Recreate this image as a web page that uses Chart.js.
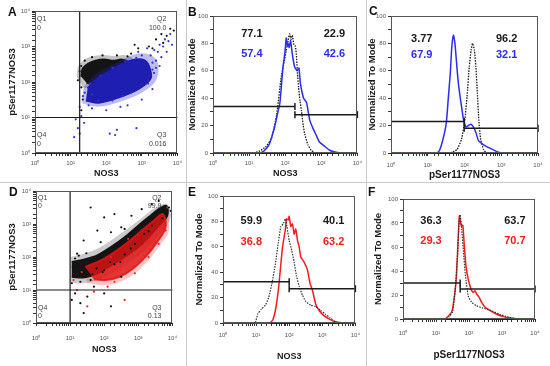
<!DOCTYPE html>
<html>
<head>
<meta charset="utf-8">
<title>NOS3 / pSer1177NOS3 flow cytometry</title>
<script src="https://cdn.jsdelivr.net/npm/chart.js@4.4.1/dist/chart.umd.min.js"></script>
<style>
  html, body { margin: 0; padding: 0; background: #fff; }
  #fig { position: relative; width: 550px; height: 366px; overflow: hidden; font-family: "Liberation Sans", Arial, sans-serif; }
  #fig canvas { position: absolute; }
  .rule { position: absolute; background: #c9c9c9; }
  .tag { position: absolute; font-weight: bold; font-size: 12px; line-height: 12px; color: #111; }
</style>
</head>
<body>
<div id="fig">
  <div class="rule" style="left:186px;top:0;width:1px;height:366px"></div>
  <div class="rule" style="left:366px;top:0;width:1px;height:366px"></div>
  <div class="rule" style="left:0;top:182px;width:550px;height:1px"></div>
  <canvas id="panelA"></canvas>
  <canvas id="panelB"></canvas>
  <canvas id="panelC"></canvas>
  <canvas id="panelD"></canvas>
  <canvas id="panelE"></canvas>
  <canvas id="panelF"></canvas>
  <div class="tag" style="left:8px;top:6px">A</div>
  <div class="tag" style="left:188px;top:6px">B</div>
  <div class="tag" style="left:369px;top:5px">C</div>
  <div class="tag" style="left:9px;top:186px">D</div>
  <div class="tag" style="left:188px;top:186px">E</div>
  <div class="tag" style="left:368px;top:186px">F</div>
</div>
<script>
// ---- A: pSer1177NOS3 vs NOS3 dot plot (black = control, blue = treated)
const aQuad = ["0", "100.0", "0", "0.016"]; // Q1, Q2, Q4, Q3
const aGateX = 18, aGateY = 10;
const aBlackCoreX = [20, 22, 32, 50, 89, 158, 282, 417, 355, 200, 100, 50, 28];
const aBlackCoreY = [141, 240, 331, 398, 427, 398, 427, 355, 224, 158, 95, 83, 95];
const aBlackHaloX = [15, 16.6, 26, 50, 89, 178, 316, 562, 501, 224, 100, 45, 22];
const aBlackHaloY = [141, 282, 447, 550, 575, 537, 575, 447, 224, 112, 71, 60, 71];
const aBlueCoreX = [27, 63, 229, 832, 1778, 1585, 1122, 562, 282, 120, 52, 30];
const aBlueCoreY = [30, 26, 37, 65, 126, 282, 417, 417, 316, 200, 115, 66];
const aBlueHaloX = [21, 56, 251, 1000, 2512, 2818, 1585, 631, 282, 112, 45, 23];
const aBlueHaloY = [25, 20, 28, 50, 112, 355, 603, 603, 417, 263, 151, 71];
const aBlueDotsX = [1778, 2239, 2818, 3162, 3981, 4467, 5623, 6310, 2512, 3548, 1995, 2512, 1000, 794, 1413, 5012, 7079, 3162,
  14, 16, 18, 20, 24, 12.6, 126, 178, 200, 708, 100, 398, 40, 32, 251, 1000, 1995, 22, 18,
  40, 60, 150, 300, 500, 1500, 2200, 2000, 700, 350, 150, 70, 35, 25];
const aBlueDotsY = [562, 794, 708, 1122, 1000, 1585, 1413, 2239, 398, 501, 224, 251, 562, 708, 891, 708, 1122, 282,
  8.9, 5, 3.5, 11, 7.1, 2.8, 3.5, 3.2, 4.5, 5, 16, 22, 18, 22, 20, 32, 63, 40, 20,
  45, 30, 30, 40, 50, 90, 180, 350, 480, 380, 250, 150, 90, 50];
const aBlackDotsX = [1585, 2512, 3548, 5012, 6310, 7943, 3981, 1995, 794, 501, 631, 18, 20, 25, 40, 79, 200, 398, 16, 20, 35, 22, 20];
const aBlackDotsY = [1000, 1585, 2239, 1995, 3162, 2818, 1259, 891, 891, 631, 1122, 200, 282, 398, 501, 562, 562, 525, 112, 71, 63, 32, 16];

// ---- B: NOS3 histogram
const bCtrlPct = ["77.1", "22.9"];
const bTreatPct = ["57.4", "42.6"];
const bGateX = [1, 186, 10000];
const bGateY = [34, 28];
const bBlueX = [1, 17.8, 24.5, 31.6, 37, 51, 63, 71, 78, 87, 98, 107, 115, 120, 129, 141, 158, 182, 214, 240, 263, 295, 324, 389, 479, 589, 724, 891, 1230, 1698, 2570, 3981, 10000];
const bBlueY = [0, 0, 1, 4, 7, 19, 30, 36, 48, 63, 73, 84, 78, 80, 77, 82, 72, 63, 60, 62, 51, 44, 40, 37, 24, 18, 13, 8, 5, 2, 0.5, 0, 0];
const bDotX = [1, 12.6, 20, 30, 42, 58, 78, 93, 107, 120, 132, 145, 158, 174, 191, 204, 219, 234, 257, 282, 316, 347, 427, 525, 708, 10000];
const bDotY = [0, 0, 1.5, 5, 11, 28, 56, 66, 75, 82, 87, 83, 86, 79, 78, 72, 58, 48, 38, 31, 20, 14, 6, 2, 0, 0];

// ---- C: pSer1177NOS3 histogram
const cCtrlPct = ["3.77", "96.2"];
const cTreatPct = ["67.9", "32.1"];
const cGateX = [1, 98, 10000];
const cGateY = [23, 18];
const cBlueX = [1, 17.8, 21, 26, 32, 36, 41, 45, 50, 55, 62, 68, 76, 83, 93, 110, 126, 151, 174, 204, 240, 331, 490, 759, 1122, 10000];
const cBlueY = [0, 0, 2, 10, 22, 39, 58, 77, 86, 80, 63, 51, 41, 34, 25, 19, 20, 21, 19, 15, 9, 6, 3.5, 1, 0, 0];
const cDotX = [1, 40, 62, 83, 102, 117, 135, 151, 166, 186, 204, 224, 245, 275, 331, 407, 10000];
const cDotY = [0, 0, 2.4, 10, 24, 41, 63, 75, 80, 75, 63, 44, 24, 10, 2.4, 0, 0];

// ---- D: pSer1177NOS3 vs NOS3 dot plot (black = control, red = treated)
const dQuad = ["0", "99.9", "0", "0.13"];
const dGateX = 10, dGateY = 10;
const dBlackCoreX = [11.2, 25, 63, 158, 398, 1000, 1995, 3981, 6607, 7079, 3981, 1995, 1000, 398, 158, 63, 25, 11.2];
const dBlackCoreY = [71, 83, 112, 200, 398, 891, 1585, 2818, 3548, 1778, 891, 398, 200, 100, 56, 32, 24, 25];
const dBlackHaloX = [10, 25, 63, 158, 398, 1000, 1995, 3981, 7079, 8913, 5012, 2512, 1000, 398, 158, 63, 25, 10];
const dBlackHaloY = [100, 126, 178, 316, 631, 1259, 2239, 3548, 3981, 1585, 631, 251, 112, 56, 32, 20, 16, 16];
const dRedCoreX = [28, 79, 200, 501, 1259, 2818, 5248, 6310, 3548, 1778, 708, 282, 112, 50];
const dRedCoreY = [50, 79, 141, 282, 631, 1259, 1995, 794, 282, 112, 45, 25, 20, 21];
const dRedHaloX = [22, 79, 200, 501, 1259, 3162, 6310, 7943, 3981, 1995, 794, 316, 100, 32];
const dRedHaloY = [63, 100, 200, 398, 891, 1995, 2818, 631, 200, 79, 32, 18, 14, 16];
const dBlackDotsX = [40, 100, 200, 316, 63, 158, 631, 1259, 25, 79, 398, 16, 2512, 3981, 7943, 8913, 11.2, 14, 20, 32, 50, 100, 158, 20, 40, 316, 11.2, 25,
  200, 400, 800, 1500, 100, 300, 2500, 5000, 12, 14, 18, 30, 60, 150, 600, 2000, 45, 90];
const dBlackDotsY = [3162, 1585, 1995, 794, 631, 562, 1778, 2818, 316, 282, 708, 126, 3981, 5012, 3162, 2512, 16, 7.9, 4, 6.3, 12.6, 7.9, 3.2, 17.8, 20, 25, 5, 2,
  60, 120, 250, 500, 40, 70, 900, 1500, 50, 90, 110, 130, 45, 70, 180, 600, 30, 35];
const dRedDotsX = [16, 32, 126, 398, 200, 12.6, 50, 3981, 6310, 1995, 794, 7079, 501, 158, 22, 1000, 2000, 300];
const dRedDotsY = [10, 3.2, 12.6, 5, 17.8, 20, 8.9, 251, 631, 100, 32, 3162, 355, 100, 35, 120, 300, 40];

// ---- E: NOS3 histogram
const eCtrlPct = ["59.9", "40.1"];
const eTreatPct = ["36.8", "63.2"];
const eGateX = [1, 100, 10000];
const eGateY = [32.5, 27];
const eRedX = [1, 25, 32, 40, 48, 54, 63, 76, 83, 93, 100, 112, 126, 141, 158, 178, 200, 224, 282, 355, 427, 501, 631, 794, 1096, 1549, 2455, 5012, 10000];
const eRedY = [0, 0, 2.4, 12.6, 28, 42, 60, 73, 82, 81, 84, 76, 78, 70, 74, 65, 60, 52, 48, 42, 31, 26, 15, 10, 6, 3.5, 1, 0, 0];
const eDotX = [1, 9.1, 11.2, 14.5, 19, 24, 30, 38, 48, 56, 66, 76, 85, 100, 120, 141, 166, 200, 251, 316, 447, 631, 891, 1230, 1738, 2455, 3981, 10000];
const eDotY = [0, 0, 7, 11, 14, 20, 31, 46, 65, 76, 78, 82, 76, 65, 57, 48, 37, 29, 22, 17, 14, 13, 10, 7, 4, 1, 0, 0];

// ---- F: pSer1177NOS3 histogram
const fCtrlPct = ["36.3", "63.7"];
const fTreatPct = ["29.3", "70.7"];
const fGateX = [1, 54, 10000];
const fGateY = [30, 25];
const fRedX = [1, 18.6, 23, 30, 35, 41, 46, 51, 58, 65, 72, 81, 95, 115, 135, 151, 170, 204, 240, 302, 437, 692, 1096, 1995, 3981, 10000];
const fRedY = [0, 0, 2, 6, 16, 33, 61, 86, 78, 78, 61, 44, 33, 25, 22, 23.5, 21, 18, 14, 10, 7, 4, 2, 0.6, 0, 0];
const fDotX = [1, 20, 25, 32, 38, 45, 50, 54, 60, 68, 78, 95, 120, 170, 269, 468, 832, 1380, 2818, 10000];
const fDotY = [0, 0, 2, 6, 24, 53, 81, 87, 75, 56, 36, 19, 14, 11, 9, 7, 4, 2, 0, 0];

const SUP = { 1: "10\u2070", 10: "10\u00b9", 100: "10\u00b2", 1000: "10\u00b3", 10000: "10\u2074" };
const FONT = "Liberation Sans";
const BLUE = "#2c2cf0", RED = "#f41c1c", INK = "#1a1a1a";

const pts = (xs, ys) => xs.map((x, i) => ({ x, y: ys[i] }));

function blob(xs, ys, color, order, edge) {
  return { data: pts(xs, ys), showLine: true, fill: "shape", backgroundColor: color, borderColor: color,
    borderWidth: edge, tension: 0.35, pointRadius: 0, order };
}
function dots(xs, ys, color, order) {
  return { data: pts(xs, ys), pointRadius: 1.1, pointBorderWidth: 0, pointBackgroundColor: color, order };
}
function segment(data, order) {
  return { data, showLine: true, borderColor: INK, borderWidth: 1.2, pointRadius: 0, clip: false, order };
}
function trace(xs, ys, color, dash, width, order) {
  return { data: pts(xs, ys), showLine: true, borderColor: color, borderWidth: width, borderDash: dash,
    pointRadius: 0, tension: 0.15, clip: false, order };
}
function gate(x0, x1, y, caps) {
  return { data: [{ x: x0, y }, { x: x1, y }], showLine: true, borderColor: INK, borderWidth: 1.5,
    pointStyle: "line", rotation: 90, pointRadius: caps, pointBorderColor: INK, pointBorderWidth: 1.5,
    clip: false, order: 0 };
}
function gates(gx, gy) {
  return [gate(gx[0], gx[1], gy[0], [0, 3.5]), gate(gx[1], gx[2], gy[1], [3.5, 3.5])];
}

const framePlugin = {
  id: "frame",
  afterDatasetsDraw(chart) {
    const { ctx, chartArea: a } = chart;
    ctx.save();
    ctx.strokeStyle = "#555";
    ctx.lineWidth = 1;
    ctx.strokeRect(Math.round(a.left) + 0.5, Math.round(a.top) + 0.5, Math.round(a.right - a.left) - 1, Math.round(a.bottom - a.top) - 1);
    ctx.restore();
  }
};

function notesPlugin(notes) {
  return {
    id: "notes",
    afterDraw(chart) {
      const { ctx, chartArea: a } = chart;
      ctx.save();
      ctx.textBaseline = "middle";
      notes.forEach((n) => {
        ctx.font = n.font;
        ctx.fillStyle = n.color;
        ctx.textAlign = n.align || "center";
        ctx.fillText(n.text, a.left + n.fx * (a.right - a.left), a.top + n.fy * (a.bottom - a.top));
      });
      ctx.restore();
    }
  };
}

function quadNotes(vals, l, r, t1, t2, b1, b2) {
  const f = "7px " + FONT, c = "#444";
  return [
    { text: "Q1", fx: l, fy: t1, align: "left", font: f, color: c },
    { text: vals[0], fx: l, fy: t2, align: "left", font: f, color: c },
    { text: "Q2", fx: r, fy: t1, align: "right", font: f, color: c },
    { text: vals[1], fx: r, fy: t2, align: "right", font: f, color: c },
    { text: "Q4", fx: l, fy: b1, align: "left", font: f, color: c },
    { text: vals[2], fx: l, fy: b2, align: "left", font: f, color: c },
    { text: "Q3", fx: r, fy: b1, align: "right", font: f, color: c },
    { text: vals[3], fx: r, fy: b2, align: "right", font: f, color: c }
  ];
}

function pctNotes(ctrl, treat, color, fl, fr, f1, f2) {
  const f = "bold 11px " + FONT;
  return [
    { text: ctrl[0], fx: fl, fy: f1, font: f, color: INK },
    { text: ctrl[1], fx: fr, fy: f1, font: f, color: INK },
    { text: treat[0], fx: fl, fy: f2, font: f, color },
    { text: treat[1], fx: fr, fy: f2, font: f, color }
  ];
}

function logAxis() {
  return {
    type: "logarithmic", min: 1, max: 10000,
    ticks: { autoSkip: false, maxRotation: 0, color: "#555", font: { family: FONT, size: 6 }, padding: 2,
      callback: (v) => SUP[v] || "" },
    grid: { drawOnChartArea: false, tickLength: 3, color: "#333" },
    border: { color: "#222", width: 1 }
  };
}

// cell: [x, y, w, h] of the panel; plot: [left, top, right, bottom] of the data area
function panel(id, cell, plot, t, datasets, notes) {
  const canvas = document.getElementById(id);
  canvas.width = cell[2];
  canvas.height = cell[3];
  canvas.style.left = cell[0] + "px";
  canvas.style.top = cell[1] + "px";
  const yWidth = plot[0] - cell[0];
  const xHeight = cell[1] + cell[3] - plot[3];

  const x = logAxis();
  x.ticks.padding = t.xTickPad;
  x.title = { display: true, text: t.xTitle, color: INK, font: { family: FONT, size: t.xSize, weight: "bold" },
    padding: { top: 0, bottom: t.xTitlePad } };
  x.afterFit = (s) => { s.height = xHeight; };

  let y;
  if (t.hist) {
    y = {
      type: "linear", min: 0, max: 100,
      ticks: { stepSize: 10, autoSkip: false, color: "#555", font: { family: FONT, size: 6 }, padding: 2,
        callback: (v) => (v % 20 === 0 ? v : "") },
      grid: { drawOnChartArea: false, tickLength: 3, color: "#333" },
      border: { color: "#222", width: 1 }
    };
  } else {
    y = logAxis();
  }
  y.title = { display: true, text: t.yTitle, color: INK, font: { family: FONT, size: t.ySize, weight: "bold" },
    padding: { top: t.yTitlePad, bottom: 0 } };
  y.afterFit = (s) => { s.width = yWidth; };

  return new Chart(canvas, {
    type: "scatter",
    data: { datasets },
    options: {
      responsive: false,
      animation: false,
      events: [],
      layout: { padding: { left: 0, top: plot[1] - cell[1], right: cell[0] + cell[2] - plot[2], bottom: 0 } },
      plugins: { legend: { display: false }, tooltip: { enabled: false } },
      scales: { x, y }
    },
    plugins: [framePlugin, notesPlugin(notes)]
  });
}

panel("panelA", [0, 0, 186, 182], [35, 11, 178, 153],
  { xTitle: "NOS3", xSize: 9, xTitlePad: 3, xTickPad: 4, yTitle: "pSer1177NOS3", ySize: 9.5, yTitlePad: 7 },
  [
    segment([{ x: aGateX, y: 1 }, { x: aGateX, y: 10000 }], 0),
    segment([{ x: 1, y: aGateY }, { x: 10000, y: aGateY }], 0),
    dots(aBlueDotsX, aBlueDotsY, "#3434cc", 1),
    blob(aBlueCoreX, aBlueCoreY, "#1e1eb0", 2, 2),
    blob(aBlueHaloX, aBlueHaloY, "rgba(40,40,200,0.3)", 3, 0),
    dots(aBlackDotsX, aBlackDotsY, "#111", 4),
    blob(aBlackCoreX, aBlackCoreY, "#141414", 5, 2),
    blob(aBlackHaloX, aBlackHaloY, "rgba(20,20,20,0.25)", 6, 0)
  ],
  quadNotes(aQuad, 0.014, 0.923, 0.056, 0.12, 0.873, 0.937));

panel("panelB", [187, 0, 179, 182], [213, 16, 358, 153],
  { hist: true, xTitle: "NOS3", xSize: 9, xTitlePad: 3, xTickPad: 4, yTitle: "Normalized To Mode", ySize: 9.5, yTitlePad: 0 },
  [
    ...gates(bGateX, bGateY),
    trace(bDotX, bDotY, INK, [1.5, 1.2], 1.3, 2),
    trace(bBlueX, bBlueY, BLUE, [], 1.5, 1)
  ],
  pctNotes(bCtrlPct, bTreatPct, BLUE, 0.269, 0.841, 0.131, 0.277));

panel("panelC", [367, 0, 183, 182], [391, 16, 538, 153],
  { hist: true, xTitle: "pSer1177NOS3", xSize: 10, xTitlePad: 1, xTickPad: 6, yTitle: "Normalized To Mode", ySize: 9.5, yTitlePad: 0 },
  [
    ...gates(cGateX, cGateY),
    trace(cDotX, cDotY, INK, [1.5, 1.2], 1.3, 2),
    trace(cBlueX, cBlueY, BLUE, [], 1.5, 1)
  ],
  pctNotes(cCtrlPct, cTreatPct, BLUE, 0.209, 0.787, 0.17, 0.285));

panel("panelD", [0, 183, 186, 183], [36, 191, 173, 323],
  { xTitle: "NOS3", xSize: 9, xTitlePad: 11, xTickPad: 9, yTitle: "pSer1177NOS3", ySize: 9.5, yTitlePad: 7 },
  [
    segment([{ x: dGateX, y: 1 }, { x: dGateX, y: 10000 }], 0),
    segment([{ x: 1, y: dGateY }, { x: 10000, y: dGateY }], 0),
    dots(dBlackDotsX, dBlackDotsY, "#111", 1),
    dots(dRedDotsX, dRedDotsY, "#f02020", 2),
    blob(dRedCoreX, dRedCoreY, "rgba(225,20,20,0.82)", 3, 2),
    blob(dBlackCoreX, dBlackCoreY, "#141414", 4, 2),
    blob(dRedHaloX, dRedHaloY, "rgba(240,30,30,0.25)", 5, 0),
    blob(dBlackHaloX, dBlackHaloY, "rgba(20,20,20,0.22)", 6, 0)
  ],
  quadNotes(dQuad, 0.015, 0.92, 0.053, 0.115, 0.888, 0.947));

panel("panelE", [187, 183, 179, 183], [223, 196, 357, 323],
  { hist: true, xTitle: "NOS3", xSize: 9, xTitlePad: 4, xTickPad: 6, yTitle: "Normalized To Mode", ySize: 9.5, yTitlePad: 7 },
  [
    ...gates(eGateX, eGateY),
    trace(eDotX, eDotY, "#333", [1.5, 1.2], 1.2, 1),
    trace(eRedX, eRedY, RED, [], 1.5, 2)
  ],
  pctNotes(eCtrlPct, eTreatPct, RED, 0.214, 0.836, 0.197, 0.36));

panel("panelF", [367, 183, 183, 183], [403, 199, 535, 319],
  { hist: true, xTitle: "pSer1177NOS3", xSize: 10, xTitlePad: 5, xTickPad: 8, yTitle: "Normalized To Mode", ySize: 9.5, yTitlePad: 6 },
  [
    ...gates(fGateX, fGateY),
    trace(fDotX, fDotY, "#333", [1.5, 1.2], 1.2, 1),
    trace(fRedX, fRedY, RED, [], 1.5, 2)
  ],
  pctNotes(fCtrlPct, fTreatPct, RED, 0.212, 0.848, 0.183, 0.35));
</script>
</body>
</html>
